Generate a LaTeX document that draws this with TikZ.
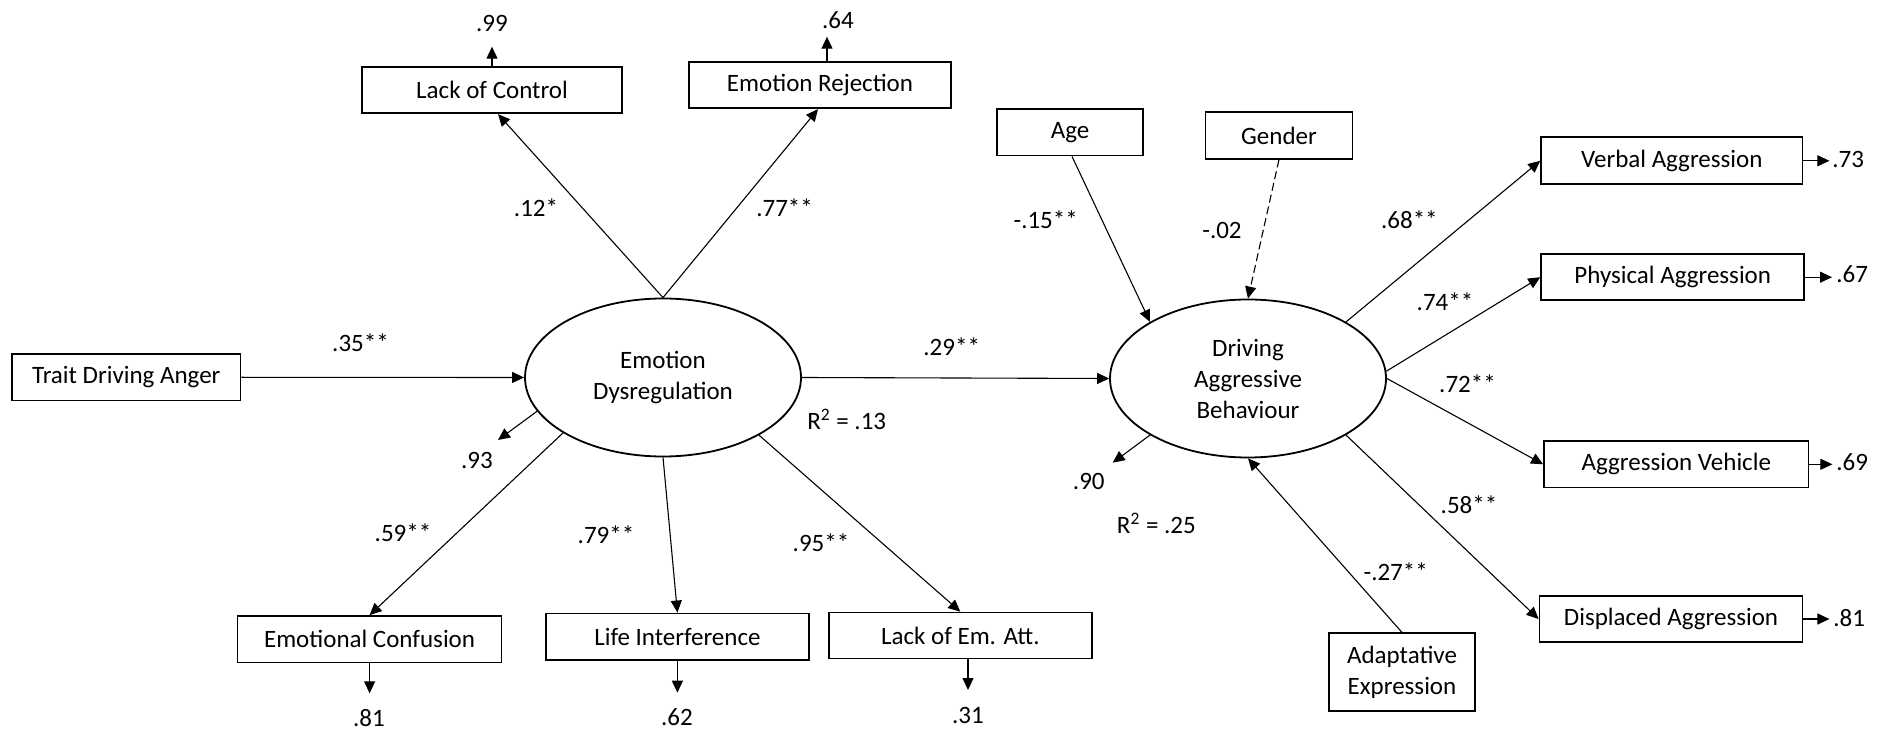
\documentclass[tikz,border=0pt]{standalone}
\usepackage{fontspec}
\setmainfont{Carlito}
\usetikzlibrary{arrows.meta,shapes.geometric}
\begin{document}
\begin{tikzpicture}[x=0.5pt,y=-0.5pt,
  every node/.style={font=\fontsize{12.5}{15.5}\selectfont},
  obs/.style={draw, line width=0.85pt, inner sep=0pt, align=center},
  lat/.style={draw, ellipse, line width=0.9pt, inner sep=0pt, minimum width=138pt, minimum height=79pt, align=center},
  arr/.style={line width=0.55pt, -{Triangle[length=6pt,width=5.5pt]}},
  lbl/.style={inner sep=0pt}
]
\useasboundingbox (0,0) rectangle (1888,731);

% latent variables
\node[lat] (ED) at (663,377.5) {Emotion\\Dysregulation};
\node[lat] (DAB) at (1248,378.5) {Driving\\Aggressive\\Behaviour};

% observed boxes
\node[obs, minimum width=130.25pt, minimum height=23.3pt] (LC) at (492,90) {Lack of Control};
\node[obs, minimum width=131pt, minimum height=23.3pt] (ER) at (820,85) {Emotion Rejection};
\node[obs, minimum width=114.25pt, minimum height=23.3pt] (TDA) at (126.3,377.3) {Trait Driving Anger};
\node[obs, minimum width=132pt, minimum height=23.3pt] (EC) at (369.6,639.3) {Emotional Confusion};
\node[obs, minimum width=131.4pt, minimum height=23.3pt] (LI) at (677.4,636.7) {Life Interference};
\node[obs, minimum width=131.5pt, minimum height=23pt] (LEA) at (960.3,635.5) {Lack of Em. Att.};
\node[obs, minimum width=73.25pt, minimum height=23.3pt] (Age) at (1070,132.3) {Age};
\node[obs, minimum width=73.6pt, minimum height=23.2pt] (Gender) at (1279,135.5) {Gender};
\node[obs, minimum width=130.75pt, minimum height=23.5pt] (VA) at (1671.8,160.8) {Verbal Aggression};
\node[obs, minimum width=131.6pt, minimum height=23pt] (PA) at (1672.7,277.2) {Physical Aggression};
\node[obs, minimum width=132.25pt, minimum height=23.3pt] (AV) at (1676.3,464.3) {Aggression Vehicle};
\node[obs, minimum width=131.6pt, minimum height=23.3pt] (DA) at (1671,619) {Displaced Aggression};
\node[obs, minimum width=73.25pt, minimum height=38.7pt] (AE) at (1402,672) {Adaptative\\Expression};

% structural paths
\draw[arr] (TDA.east) -- (ED.west);
\draw[arr] (ED.east) -- (DAB.west);
\draw[arr] ([xshift=1pt]Age.south) -- (DAB.150.2);
\draw[arr, dash pattern=on 4pt off 2pt] (Gender.south) -- (DAB.north);
\draw[arr] (AE.north) -- (DAB.south);

% measurement paths ED
\draw[arr] (ED.north) -- ([xshift=3pt]LC.south);
\draw[arr] (ED.north) -- ([xshift=-1pt]ER.south);
\draw[arr] (ED.209.6) -- (EC.north);
\draw[arr] (ED.south) -- (LI.north);
\draw[arr] (ED.329.7) -- (LEA.north);

% measurement paths DAB
\draw[arr] (DAB.30.1) -- (VA.west);
\draw[arr] (DAB.3) -- (PA.west);
\draw[arr] (DAB.east) -- (AV.west);
\draw[arr] (DAB.330.5) -- (DA.west);

% disturbance / error arrows
\coordinate (e93) at (498,440);
\coordinate (e90) at (1112.7,462.7);
\draw[arr] (ED.195) -- (e93);
\draw[arr] (DAB.210) -- (e90);

\coordinate (eLC) at (492,46.7);
\coordinate (eER) at (827,36.7);
\coordinate (eEC) at (369.6,693.3);
\coordinate (eLI) at (677.4,692.7);
\coordinate (eLEA) at (968,690);
\coordinate (eVA) at (1829.4,160.8);
\coordinate (ePA) at (1832,277.2);
\coordinate (eAV) at (1832.4,464.3);
\coordinate (eDA) at (1829.4,619);
\draw[arr] (LC.north) -- (eLC);
\draw[arr] ([xshift=3.5pt]ER.north) -- (eER);
\draw[arr] (EC.south) -- (eEC);
\draw[arr] (LI.south) -- (eLI);
\draw[arr] ([xshift=3.85pt]LEA.south) -- (eLEA);
\draw[arr] (VA.east) -- (eVA);
\draw[arr] (PA.east) -- (ePA);
\draw[arr] (AV.east) -- (eAV);
\draw[arr] (DA.east) -- (eDA);

% error values
\node[lbl] (v99) at (492,23) {.99};
\node[lbl] (v64) at (838,20) {.64};
\node[lbl] (v81a) at (369,718) {.81};
\node[lbl] (v62) at (677,716.7) {.62};
\node[lbl] (v31) at (968,715) {.31};
\node[lbl, anchor=west] (v73) at (1832,159) {.73};
\node[lbl, anchor=west] (v67) at (1836,274) {.67};
\node[lbl, anchor=west] (v69) at (1836,462) {.69};
\node[lbl, anchor=west] (v81b) at (1833,618) {.81};
\node[lbl] (v93) at (477,460) {.93};
\node[lbl] (v90) at (1088.8,481.7) {.90};

% coefficients
\node[lbl] (c12) at (536,208) {.12*};
\node[lbl] (c77) at (784.6,208) {.77**};
\node[lbl] (c35) at (360.5,343) {.35**};
\node[lbl] (c29) at (951.7,346.7) {.29**};
\node[lbl] (r13) at (846.7,419.3) {R\textsuperscript{2} = .13};
\node[lbl] (c59) at (403,533) {.59**};
\node[lbl] (c79) at (606,535) {.79**};
\node[lbl] (c95) at (821,543) {.95**};
\node[lbl] (c15) at (1045.7,220) {-.15**};
\node[lbl] (c02) at (1222,230) {-.02};
\node[lbl] (c68) at (1409.4,220) {.68**};
\node[lbl] (c74) at (1445,301.7) {.74**};
\node[lbl] (c72) at (1467.5,383.3) {.72**};
\node[lbl] (r25) at (1156.4,523.3) {R\textsuperscript{2} = .25};
\node[lbl] (c58) at (1469,505) {.58**};
\node[lbl] (c27) at (1395.7,571.7) {-.27**};
\end{tikzpicture}
\end{document}
